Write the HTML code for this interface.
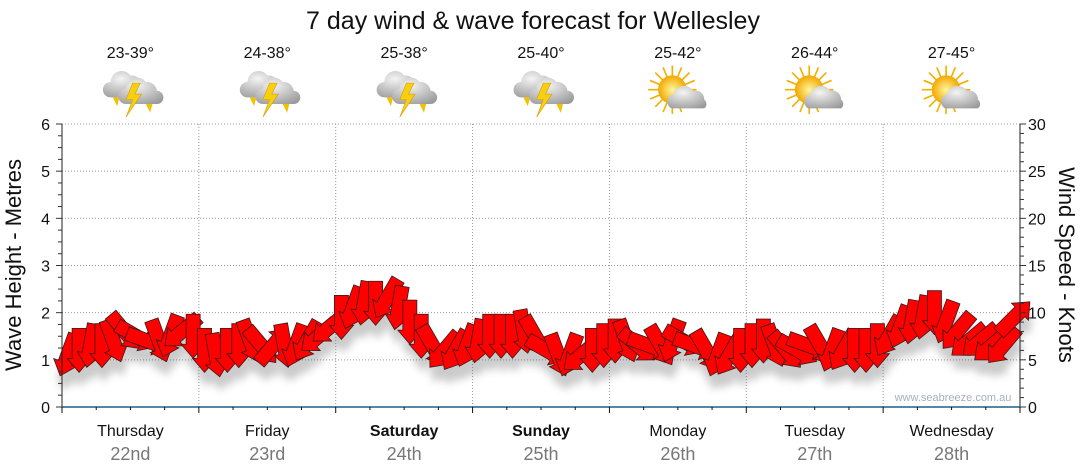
<!DOCTYPE html>
<html><head><meta charset="utf-8"><style>
body{margin:0;background:#fff;}
svg{display:block;font-family:"Liberation Sans",sans-serif;}
</style></head><body>
<svg id="chart" width="1080" height="475" viewBox="0 0 1080 475">
<defs>
<filter id="sh" x="-50%" y="-50%" width="200%" height="200%"><feGaussianBlur stdDeviation="4"/></filter>
<radialGradient id="cloud" cx="0.4" cy="0.3" r="0.8"><stop offset="0" stop-color="#f4f4f4"/><stop offset="1" stop-color="#9a9a9a"/></radialGradient>
<radialGradient id="sun" cx="0.5" cy="0.5" r="0.5"><stop offset="0" stop-color="#fff6a0"/><stop offset="1" stop-color="#f2a800"/></radialGradient>
</defs>
<text x="533" y="29" text-anchor="middle" font-size="25" fill="#111">7 day wind &amp; wave forecast for Wellesley</text>
<g id="grid"></g>
<g id="shadows" filter="url(#sh)" opacity="0.3"></g>
<g id="arrows"></g>
<g id="axes"></g>
<g id="topg"></g>
<text x="953" y="401" text-anchor="middle" font-size="11" fill="#a8b0bc">www.seabreeze.com.au</text>
<text transform="translate(21,265) rotate(-90)" text-anchor="middle" font-size="22" fill="#111">Wave Height - Metres</text>
<text transform="translate(1059,265) rotate(90)" text-anchor="middle" font-size="22" fill="#111">Wind Speed - Knots</text>
</svg>
<script>
const days = ["Thursday","Friday","Saturday","Sunday","Monday","Tuesday","Wednesday"];
const dates = ["22nd","23rd","24th","25th","26th","27th","28th"];
const temps = ["23-39°","24-38°","25-38°","25-40°","25-42°","26-44°","27-45°"];
const icons = ["storm","storm","storm","storm","sun","sun","sun"];
const waveTicks = [0,1,2,3,4,5,6];
const windTicks = [0,5,10,15,20,25,30];
const windSpeed = [
5.5,6,6.5,6.5,7,8,7.5,7,7,7.5,8,7.5,
6,5.5,6,6.5,7,6.5,6.5,6.5,6.5,7,7.5,8.5,
9.5,10.5,11,11,11.5,10.5,9,7.5,6.5,6,6,6.5,
7,7.5,7.5,7.5,8,7.5,6,5.5,5.5,5.5,6,6.5,
7,7,6.5,6.5,6.5,7,7,6.5,6,5.5,5.5,6,
6.5,7,6.5,6,6,6.5,6.5,6,6,6,6,6.5,
7.5,8.5,9,9.5,10,9,8,7,7,6.5,6.5,9.5];
const windDir = [
200,180,190,180,160,140,120,110,160,200,230,180,
180,170,180,180,160,140,40,170,200,210,230,230,
180,200,190,180,210,190,180,180,150,220,210,200,
190,180,180,180,170,150,120,160,200,230,180,180,
180,160,130,110,150,200,120,110,150,200,210,180,
180,180,160,140,120,110,150,200,210,180,180,180,
210,200,190,190,180,200,220,230,230,230,220,45];

const NS="http://www.w3.org/2000/svg";
const X0=62,X1=1020,Y0=407,Y1=124;
const xDay=d=>X0+(X1-X0)*d/7;
const yWave=v=>Y0-(Y0-Y1)*v/6;
const yWind=v=>Y0-(Y0-Y1)*v/30;
function mk(tag,attrs,parent){const e=document.createElementNS(NS,tag);for(const k in attrs)e.setAttribute(k,attrs[k]);parent.appendChild(e);return e;}
const grid=document.getElementById('grid'),axes=document.getElementById('axes'),topG=document.getElementById('topg');
waveTicks.forEach(v=>{if(v>0){const l=mk('line',{x1:X0,x2:X1,y1:yWave(v),y2:yWave(v),stroke:'#999','stroke-dasharray':'1,2'},grid);

}});
for(let d=1;d<7;d++){const l=mk('line',{x1:xDay(d),x2:xDay(d),y1:Y1,y2:Y0,stroke:'#999','stroke-dasharray':'1,2'},grid);

}
mk('line',{x1:X0,x2:X0,y1:Y1,y2:Y0,stroke:'#222'},axes);
mk('line',{x1:X1,x2:X1,y1:Y1,y2:Y0,stroke:'#222'},axes);
const xa=mk('line',{x1:X0,x2:X1,y1:Y0,y2:Y0,stroke:'#1b5f88','stroke-width':1.5},axes);


for(let i=0;i<=24;i++){const v=i/4;const y=yWave(v);mk('line',{x1:X0-(i%4?4:6),x2:X0,y1:y,y2:y,stroke:'#333'},axes);}
waveTicks.forEach(v=>{const t=mk('text',{x:50,y:yWave(v)+6,'text-anchor':'end','font-size':16,fill:'#111'},axes);t.textContent=v;

});
for(let i=0;i<=30;i++){const y=yWind(i);mk('line',{x1:X1,x2:X1+(i%5?4:6),y1:y,y2:y,stroke:'#333'},axes);}
windTicks.forEach(v=>{const t=mk('text',{x:1028,y:yWind(v)+6,'font-size':16,fill:'#111'},axes);t.textContent=v;

});
for(let i=0;i<=28;i++){const x=X0+(X1-X0)*i/28;mk('line',{x1:x,x2:x,y1:Y0,y2:Y0+(i%4?3:6),stroke:'#111'},axes);}
days.forEach((d,i)=>{const cx=(xDay(i)+xDay(i+1))/2;
const t=mk('text',{x:cx,y:436,'text-anchor':'middle','font-size':16,fill:'#111','font-weight':(i==2||i==3)?'bold':'normal'},axes);t.textContent=d;


const t2=mk('text',{x:cx,y:460,'text-anchor':'middle','font-size':18,fill:'#777'},axes);t2.textContent=dates[i];


const t3=mk('text',{x:cx,y:58,'text-anchor':'middle','font-size':16,fill:'#111'},topG);t3.textContent=temps[i];


const g=mk('g',{transform:`translate(${cx},93) scale(1.1)`},topG);


if(icons[i]=='storm'){
 mk('path',{d:'M-18,-10 a10,10 0 0 1 18,-6 a9,9 0 0 1 10,8 a6,6 0 0 1 0,12 h-28 a7,7 0 0 1 0,-14z',fill:'url(#cloud)'},g);
 mk('polygon',{points:'-16,4 -10,4 -12,12',fill:'#f2c200'},g);
 mk('path',{d:'M-4,-4 a10,10 0 0 1 18,-6 a9,9 0 0 1 10,8 a6,6 0 0 1 0,12 h-28 a7,7 0 0 1 0,-14z',fill:'url(#cloud)'},g);
 mk('polygon',{points:'2,-9 -4,6 2,6 -4,22 10,1 4,1 9,-9',fill:'#f5cf10',stroke:'#d99a00','stroke-width':0.5},g);
 mk('polygon',{points:'14,10 20,10 18,18',fill:'#f2c200'},g);
}else{
 for(let k=0;k<16;k++){const a=k*Math.PI/8;mk('line',{x1:-5,y1:-3,x2:-5+Math.cos(a)*22,y2:-3+Math.sin(a)*22,stroke:'#f2b000','stroke-width':1.5},g);}
 mk('circle',{cx:-5,cy:-3,r:13,fill:'url(#sun)'},g);
 mk('path',{d:'M-6,14 a7,7 0 0 1 2,-13 a10,10 0 0 1 18,-3 a8,8 0 0 1 10,8 a5,5 0 0 1 0,8z',fill:'url(#cloud)'},g);
}});
const arr=document.getElementById('arrows'),sh=document.getElementById('shadows');
const n=windSpeed.length;
const ap='M-7,-22 L7,-22 L7,8 L12,8 L0,22 L-12,8 L-7,8 Z';
for(let i=0;i<n;i++){
 const x=X0+(X1-X0)*(i+0.5)/n, y=yWind(windSpeed[i]);
 const rot=windDir[i]-180;
 mk('path',{d:ap,transform:`translate(${x+2},${y+14}) rotate(${rot})`,fill:'#555'},sh);
 const p=mk('path',{d:ap,transform:`translate(${x},${y}) rotate(${rot})`,fill:'#ff0000',stroke:'#3a1a1a','stroke-width':0.8},arr);
 
 
}
</script>
</body></html>
